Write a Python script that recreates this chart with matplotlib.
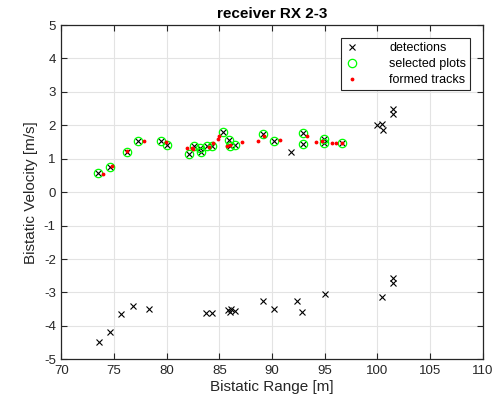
import matplotlib.pyplot as plt

plt.rcParams['font.family'] = ['Liberation Sans', 'DejaVu Sans']
plt.rcParams['axes.unicode_minus'] = False

# all detections (black x)
det_range = [73.51, 74.62, 76.24, 77.28, 79.43, 80.0, 82.15, 82.6, 83.2, 83.23,
             83.8, 84.35, 85.32, 85.92, 86.0, 86.49, 89.12, 90.22, 92.91, 92.91,
             94.97, 94.97, 96.67,
             91.78, 99.95, 100.45, 100.55, 101.51, 101.51,
             73.55, 74.62, 75.67, 76.78, 78.32, 83.74, 84.3, 85.85, 86.08, 86.0,
             86.49, 89.12, 90.22, 92.34, 92.88, 95.03, 100.47, 101.46, 101.46]
det_vel = [0.57, 0.74, 1.21, 1.54, 1.54, 1.41, 1.13, 1.39, 1.32, 1.21,
           1.38, 1.37, 1.79, 1.56, 1.37, 1.42, 1.73, 1.54, 1.78, 1.44,
           1.60, 1.47, 1.48,
           1.20, 2.00, 2.05, 1.85, 2.49, 2.34,
           -4.47, -4.17, -3.64, -3.39, -3.49, -3.62, -3.62, -3.52, -3.50, -3.57,
           -3.55, -3.25, -3.49, -3.25, -3.59, -3.05, -3.14, -2.57, -2.72]

# selected plots (green circles)
sel_range = [73.51, 74.62, 76.24, 77.28, 79.43, 80.0, 82.15, 82.6, 83.2, 83.23,
             83.8, 84.35, 85.32, 85.92, 86.0, 86.49, 89.12, 90.22, 92.91, 92.91,
             94.97, 94.97, 96.67]
sel_vel = [0.57, 0.74, 1.21, 1.54, 1.54, 1.41, 1.13, 1.39, 1.32, 1.21,
           1.38, 1.37, 1.79, 1.56, 1.37, 1.42, 1.73, 1.54, 1.78, 1.44,
           1.60, 1.47, 1.48]

# formed tracks (red dots)
trk_range = [73.93, 74.84, 76.2, 77.82, 79.94, 81.96, 82.38, 82.53, 84.05, 84.43,
             84.9, 85.0, 85.7, 86.0, 87.18, 88.7, 89.27, 90.76, 93.29, 94.18,
             94.72, 95.67, 96.05, 96.67]
trk_vel = [0.54, 0.77, 1.24, 1.54, 1.50, 1.32, 1.33, 1.30, 1.36, 1.46,
           1.58, 1.68, 1.39, 1.41, 1.51, 1.54, 1.68, 1.56, 1.68, 1.50,
           1.54, 1.46, 1.46, 1.48]

fig = plt.figure(figsize=(4.97, 3.98), dpi=100)
ax = fig.add_axes([0.1234, 0.0972, 0.8478, 0.8398])

ax.plot(det_range, det_vel, 'x', color='black', markersize=5, markeredgewidth=0.8,
        label='detections')
ax.plot(sel_range, sel_vel, 'o', color='#00ff00', markerfacecolor='none', markersize=6,
        markeredgewidth=0.9, label='selected plots')
ax.plot(trk_range, trk_vel, '.', color='red', markersize=3.5, label='formed tracks')

ax.set_xlim(70, 110)
ax.set_ylim(-5, 5)
ax.set_xticks(range(70, 111, 5))
ax.set_yticks(range(-5, 6, 1))

ax.grid(True, color='#e3e3e3', linewidth=0.8)
ax.set_axisbelow(True)
for s in ax.spines.values():
    s.set_color('#262626')
    s.set_linewidth(0.9)
ax.tick_params(direction='in', top=True, right=True, length=4, labelsize=9.5,
               colors='#262626', pad=4)

ax.set_xlabel('Bistatic Range [m]', fontsize=11, color='#262626', labelpad=2)
ax.set_ylabel('Bistatic Velocity [m/s]', fontsize=11, color='#262626', labelpad=4)
ax.set_title('receiver RX 2-3', fontsize=11, fontweight='bold', pad=5)

leg = ax.legend(loc='upper right', bbox_to_anchor=(0.97, 0.96), fontsize=9,
                fancybox=False, framealpha=1, edgecolor='#262626',
                handletextpad=2.4, labelspacing=0.32, borderpad=0.3,
                handlelength=1.2, borderaxespad=0)
leg.get_frame().set_linewidth(0.8)

fig.savefig('out.png', dpi=100)
